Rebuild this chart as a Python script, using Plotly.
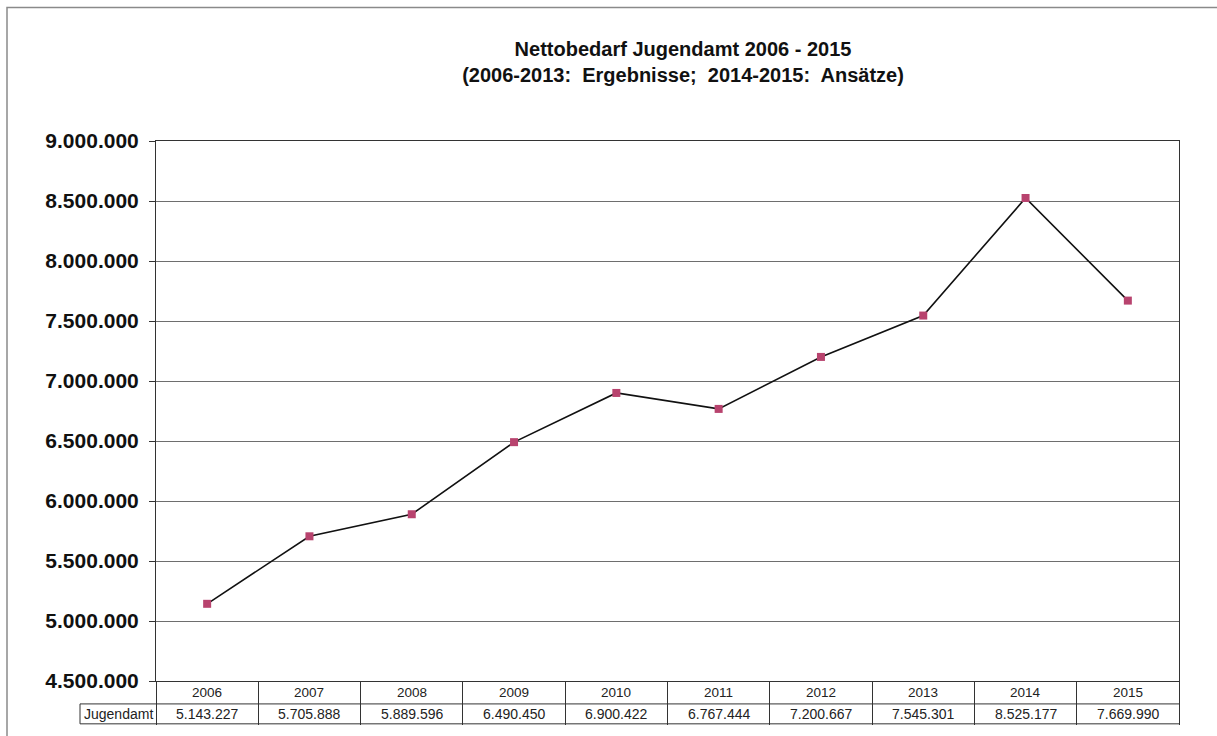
import plotly.graph_objects as go

# data
years = ["2006", "2007", "2008", "2009", "2010", "2011", "2012", "2013", "2014", "2015"]
jugendamt = [5143227, 5705888, 5889596, 6490450, 6900422, 6767444, 7200667, 7545301, 8525177, 7669990]
series_name = "Jugendamt"
title_lines = ["Nettobedarf Jugendamt 2006 - 2015", "(2006-2013:  Ergebnisse;  2014-2015:  Ansätze)"]

W, H = 1217, 736
PL, PR, PT, PB = 156, 1179, 141, 683  # plot area in pixels


def px_x(p):
    return (p - PL) / (PR - PL)


def px_y(p):
    return (PB - p) / (PB - PT)


def de(v):
    return f"{v:,}".replace(",", ".")


FONT = "Liberation Sans, Arial, sans-serif"
GRID = "#6e6e6e"
EDGE = "#333333"

fig = go.Figure()
fig.add_trace(
    go.Scatter(
        x=years,
        y=jugendamt,
        mode="lines+markers",
        name=series_name,
        line=dict(color="#111111", width=1.6),
        marker=dict(symbol="square", size=8, color="#b8436e"),
        showlegend=False,
    )
)

# table below the chart: years row + values row (x = category index)
annotations = []
for i, (yr, v) in enumerate(zip(years, jugendamt)):
    annotations.append(dict(x=i, xref="x", y=px_y(695), yref="paper", text=yr,
                            showarrow=False, font=dict(size=13.5, color="#222"),
                            xanchor="center", yanchor="middle"))
    annotations.append(dict(x=i, xref="x", y=px_y(716.5), yref="paper", text=de(v),
                            showarrow=False, font=dict(size=14, color="#222"),
                            xanchor="center", yanchor="middle"))
annotations.append(dict(x=px_x(118), xref="paper", y=px_y(716.5), yref="paper",
                        text=series_name, showarrow=False,
                        font=dict(size=14, color="#222"),
                        xanchor="center", yanchor="middle"))

line_style = dict(color=EDGE, width=1)
shapes = [
    # outer chart frame
    dict(type="rect", xref="paper", yref="paper", x0=px_x(7), x1=px_x(1240),
         y0=px_y(760), y1=px_y(7), line=dict(color="#8a8a8a", width=1.5)),
    # table rules
    dict(type="line", xref="paper", yref="paper", x0=px_x(80), x1=1, y0=px_y(706), y1=px_y(706), line=line_style),
    dict(type="line", xref="paper", yref="paper", x0=px_x(80), x1=1, y0=px_y(726), y1=px_y(726), line=line_style),
    dict(type="line", xref="paper", yref="paper", x0=px_x(80), x1=px_x(80), y0=px_y(706), y1=px_y(726), line=line_style),
]

fig.update_xaxes(
    type="category",
    categoryorder="array",
    categoryarray=years,
    range=[-0.5, len(years) - 0.5],
    showticklabels=False,
    tickson="boundaries",
    ticks="outside",
    ticklen=726 - PB,
    tickcolor=EDGE,
    tickwidth=1,
    showgrid=False,
    showline=True,
    linecolor=EDGE,
    linewidth=1,
    mirror=True,
)
fig.update_yaxes(
    range=[4500000, 9000000],
    dtick=500000,
    tickformat=",d",
    ticks="outside",
    ticklen=6,
    tickcolor=EDGE,
    showgrid=True,
    gridcolor=GRID,
    gridwidth=1,
    showline=True,
    linecolor=EDGE,
    linewidth=1,
    mirror=True,
    zeroline=False,
    ticklabelstandoff=6,
    tickfont=dict(size=21, color="#111", family=FONT, weight="bold"),
)

fig.update_layout(
    width=W,
    height=H,
    separators=",.",
    margin=dict(l=PL, r=W - PR, t=PT, b=H - PB, pad=0),
    paper_bgcolor="white",
    plot_bgcolor="white",
    font=dict(family=FONT, color="#111"),
    title=dict(
        text="<b>" + title_lines[0] + "</b><br><b>" + title_lines[1] + "</b>",
        x=683 / W,
        xanchor="center",
        xref="container",
        y=1 - 56 / H,
        yanchor="middle",
        yref="container",
        font=dict(size=20, color="#111", family=FONT),
    ),
    annotations=annotations,
    shapes=shapes,
)

fig.write_html("out.html", config={"displayModeBar": False},
               post_script="document.body.style.margin='0';")
